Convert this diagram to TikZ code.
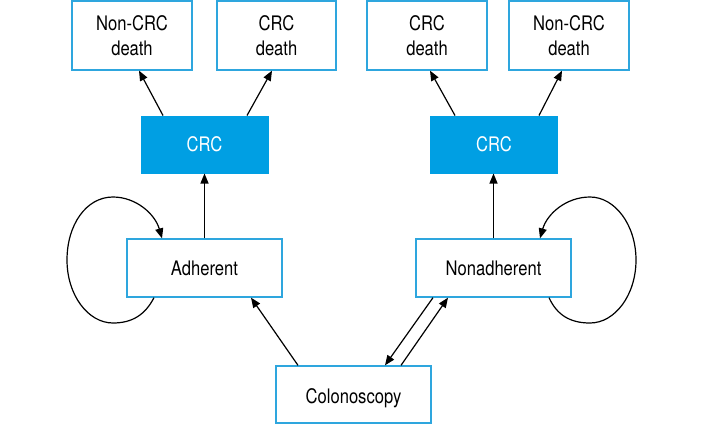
\documentclass[tikz,border=0pt]{standalone}
\usepackage{fontspec}
\setmainfont{TeX Gyre Heros}[FakeStretch=0.83]
\usetikzlibrary{arrows.meta}
\definecolor{boxline}{HTML}{2EA6DE}
\definecolor{boxfill}{HTML}{009FE3}
\begin{document}
\begin{tikzpicture}[x=1pt,y=-1pt,
  font=\fontsize{20}{24.5}\selectfont,
  statebox/.style={draw=boxline,line width=1.3pt,fill=white,rectangle,inner sep=0pt,align=center,text=black},
  crcbox/.style={draw=boxfill,line width=1pt,fill=boxfill,rectangle,inner sep=0pt,align=center,text=white,minimum width=127pt,minimum height=57pt},
  conn/.style={line width=1.2pt,-{Triangle[length=10pt,width=8pt]}}]
\useasboundingbox (0,0) rectangle (703,425);
\node[statebox,minimum width=120pt,minimum height=69pt] (nc1) at (132,35.5) {Non-CRC\\death};
\node[statebox,minimum width=119pt,minimum height=69pt] (cd1) at (276.5,35.5) {CRC\\death};
\node[statebox,minimum width=120pt,minimum height=69pt] (cd2) at (427,35.5) {CRC\\death};
\node[statebox,minimum width=120pt,minimum height=69pt] (nc2) at (569,35.5) {Non-CRC\\death};
\node[crcbox] (crc1) at (204.5,144.5) {CRC};
\node[crcbox] (crc2) at (494,144.5) {CRC};
\node[statebox,minimum width=155pt,minimum height=58pt] (adh) at (204.5,268) {Adherent};
\node[statebox,minimum width=155pt,minimum height=58pt] (non) at (493.5,268) {Nonadherent};
\node[statebox,minimum width=155pt,minimum height=57pt,text height=20pt,text depth=2pt] (col) at (353.5,394.5) {Colonoscopy};
% arrows to deaths
\draw[conn] ([xshift=-41.5pt]crc1.north) -- ([xshift=7pt]nc1.south);
\draw[conn] ([xshift=42.5pt]crc1.north) -- ([xshift=-4.5pt]cd1.south);
\draw[conn] ([xshift=-39pt]crc2.north) -- ([xshift=3pt]cd2.south);
\draw[conn] ([xshift=45pt]crc2.north) -- ([xshift=-7pt]nc2.south);
% to CRC
\draw[conn] (adh.north) -- (crc1.south);
\draw[conn] (non.north) -- ([xshift=-0.5pt]crc2.south);
% colonoscopy links
\draw[conn] ([xshift=-55.5pt]col.north) -- ([xshift=46.5pt]adh.south);
\draw[conn] ([xshift=-60.5pt]non.south) -- ([xshift=31.5pt]col.north);
\draw[conn] ([xshift=47.5pt]col.north) -- ([xshift=-45.5pt]non.south);
% self loops
\draw[conn] ([xshift=-50.5pt]adh.south) .. controls (145,315) and (132,323) .. (113,323)
  .. controls (88,323) and (67,295) .. (67,260)
  .. controls (67,225) and (86,197) .. (113,197)
  .. controls (136,197) and (155,214) .. ([xshift=-42.5pt]adh.north);
\draw[conn] ([xshift=55.5pt]non.south) .. controls (557,315) and (570,323) .. (590,323)
  .. controls (615,323) and (636,295) .. (636,260)
  .. controls (636,225) and (615,197) .. (590,197)
  .. controls (566,197) and (547,214) .. ([xshift=46.5pt]non.north);
\end{tikzpicture}
\end{document}
